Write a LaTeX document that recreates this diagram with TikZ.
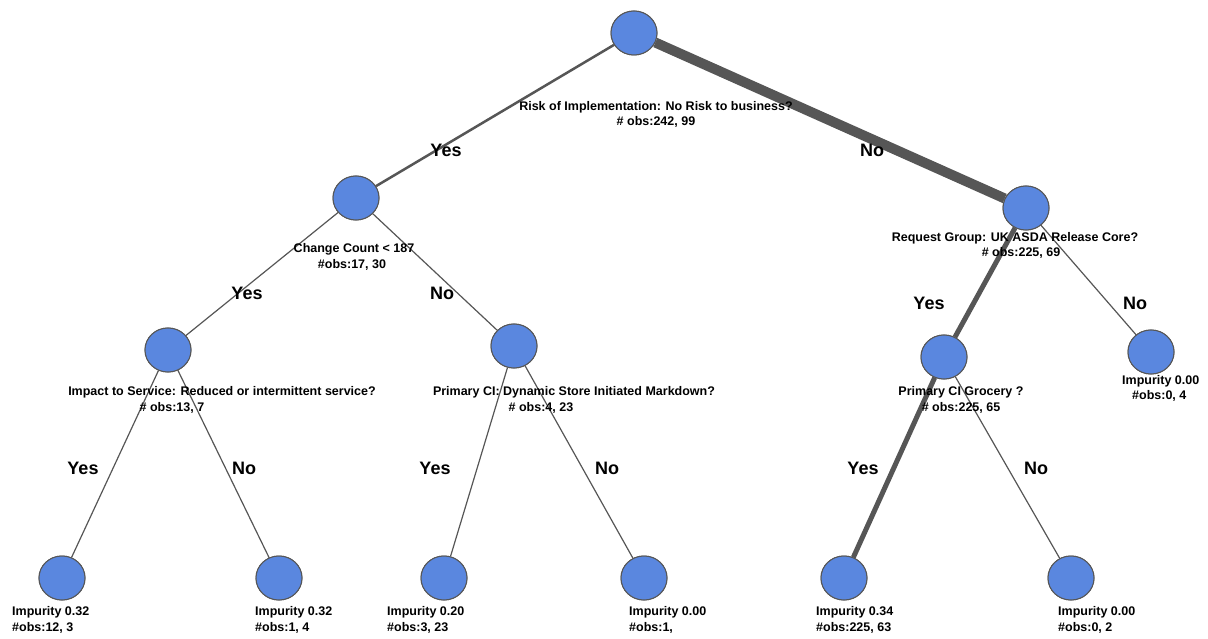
\documentclass[tikz,border=0pt]{standalone}
\usepackage{fontspec}
\setmainfont{Liberation Sans}
\usetikzlibrary{shapes.geometric}
\definecolor{nodefill}{HTML}{5A87DF}
\definecolor{edgegray}{HTML}{565656}
\tikzset{
  tnode/.style={ellipse, draw=edgegray, line width=1pt, fill=nodefill, minimum width=46pt, minimum height=44pt, inner sep=0pt},
  edge/.style={draw=edgegray, line width=1.2pt},
  midedge/.style={draw=edgegray, line width=2.5pt},
  thickedge/.style={draw=edgegray, line width=5pt},
  heavyedge/.style={draw=edgegray, line width=10pt},
  lbl/.style={inner sep=0pt, font=\fontsize{12.5}{14}\selectfont\bfseries},
  yn/.style={inner sep=0pt, font=\fontsize{18}{20}\selectfont\bfseries},
}
\begin{document}
\begin{tikzpicture}[x=1pt,y=-1pt]
\useasboundingbox (0,0) rectangle (1208,639);
% nodes
\node[tnode] (root) at (634,33) {};
\node[tnode] (L1) at (356,198) {};
\node[tnode] (R1) at (1026,208) {};
\node[tnode] (LL) at (168,350) {};
\node[tnode] (LR) at (514,346) {};
\node[tnode] (RL) at (944,357) {};
\node[tnode] (RR) at (1151,352) {};
\node[tnode] (A) at (62,578) {};
\node[tnode] (B) at (279,578) {};
\node[tnode] (C) at (444,578) {};
\node[tnode] (D) at (644,578) {};
\node[tnode] (E) at (844,578) {};
\node[tnode] (F) at (1071,578) {};
% edges
\path[midedge] (root) -- (L1);
\path[heavyedge] (root) -- (R1);
\path[edge] (L1) -- (LL);
\path[edge] (L1) -- (LR);
\path[thickedge] (R1) -- (RL);
\path[edge] (R1) -- (RR);
\path[edge] (LL) -- (A);
\path[edge] (LL) -- (B);
\path[edge] (LR) -- (C);
\path[edge] (LR) -- (D);
\path[thickedge] (RL) -- (E);
\path[edge] (RL) -- (F);
% redraw node discs on top of the edge ends
\foreach \n in {root,L1,R1,LL,LR,RL,RR,A,B,C,D,E,F}{
  \path[draw=edgegray, line width=1pt, fill=nodefill] (\n.center) ellipse (23pt and 22pt);
}
% split labels
\node[lbl] (t1a) at (656,107) {Risk of Implementation: No Risk to business?};
\node[lbl] (t1b) at (656,122) {\# obs:242, 99};
\node[lbl] (t2a) at (354,249) {Change Count < 187};
\node[lbl] (t2b) at (352,265) {\#obs:17, 30};
\node[lbl] (t3a) at (1015,238) {Request Group: UK ASDA Release Core?};
\node[lbl] (t3b) at (1021,253) {\# obs:225, 69};
\node[lbl] (t4a) at (222,392) {Impact to Service: Reduced or intermittent service?};
\node[lbl] (t4b) at (172,408) {\# obs:13, 7};
\node[lbl] (t5a) at (574,392) {Primary CI: Dynamic Store Initiated Markdown?};
\node[lbl] (t5b) at (541,408) {\# obs:4, 23};
\node[lbl] (t6a) at (961,392) {Primary CI Grocery ?};
\node[lbl] (t6b) at (961,408) {\# obs:225, 65};
% leaf labels
\node[lbl, anchor=west] (rr1) at (1122,381) {Impurity 0.00};
\node[lbl, anchor=west] (rr2) at (1132,396) {\#obs:0, 4};
\node[lbl, anchor=west] (a1) at (12,612) {Impurity 0.32};
\node[lbl, anchor=west] (a2) at (12,628) {\#obs:12, 3};
\node[lbl, anchor=west] (b1) at (255,612) {Impurity 0.32};
\node[lbl, anchor=west] (b2) at (255,628) {\#obs:1, 4};
\node[lbl, anchor=west] (c1) at (387,612) {Impurity 0.20};
\node[lbl, anchor=west] (c2) at (387,628) {\#obs:3, 23};
\node[lbl, anchor=west] (d1) at (629,612) {Impurity 0.00};
\node[lbl, anchor=west] (d2) at (629,628) {\#obs:1,};
\node[lbl, anchor=west] (e1) at (816,612) {Impurity 0.34};
\node[lbl, anchor=west] (e2) at (816,628) {\#obs:225, 63};
\node[lbl, anchor=west] (f1) at (1058,612) {Impurity 0.00};
\node[lbl, anchor=west] (f2) at (1058,628) {\#obs:0, 2};
% yes/no
\node[yn] (y1) at (446,150) {Yes};
\node[yn] (n1) at (872,150) {No};
\node[yn] (y2) at (247,293) {Yes};
\node[yn] (n2) at (442,293) {No};
\node[yn] (y3) at (929,303) {Yes};
\node[yn] (n3) at (1135,303) {No};
\node[yn] (y4) at (83,468) {Yes};
\node[yn] (n4) at (244,468) {No};
\node[yn] (y5) at (435,468) {Yes};
\node[yn] (n5) at (607,468) {No};
\node[yn] (y6) at (863,468) {Yes};
\node[yn] (n6) at (1036,468) {No};
\end{tikzpicture}
\end{document}
